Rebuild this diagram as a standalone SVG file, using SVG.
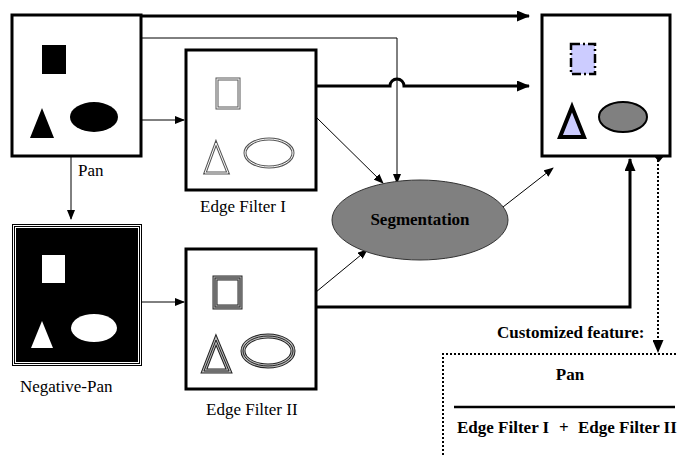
<svg xmlns="http://www.w3.org/2000/svg" width="677" height="455" viewBox="0 0 677 455">
<style>
.box{fill:#fff;stroke:#000;stroke-width:3}
.thick{stroke:#000;stroke-width:3;fill:none}
.thin{stroke:#000;stroke-width:1;fill:none}
.dot{stroke:#000;stroke-width:2;fill:none;stroke-dasharray:2 2}
.lbl{font-family:"Liberation Serif","Times New Roman",serif;font-size:17px;fill:#000}
.b{font-weight:bold}
</style>
<defs>
<marker id="ah" markerUnits="userSpaceOnUse" markerWidth="13" markerHeight="11" refX="12" refY="5.5" orient="auto"><path d="M0,0 L13,5.5 L0,11 z" fill="#000"/></marker>
<marker id="as" markerUnits="userSpaceOnUse" markerWidth="10" markerHeight="8" refX="9" refY="4" orient="auto"><path d="M0,0 L10,4 L0,8 z" fill="#000"/></marker>
</defs>
<rect width="677" height="455" fill="#fff"/>

<g id="connectors">
<path class="thick" d="M141,16 H529" marker-end="url(#ah)"/>
<path class="thin" d="M141,38 H397 V183" marker-end="url(#as)"/>
<path class="thin" d="M141,120 H184" marker-end="url(#as)"/>
<path class="thin" d="M71,156 V219" marker-end="url(#as)"/>
<path class="thick" d="M316,86 H390 A7,7 0 0 1 404,86 H529" marker-end="url(#ah)"/>
<path class="thin" d="M316,117 L383,183" marker-end="url(#as)"/>
<path class="thin" d="M142,302 H184" marker-end="url(#as)"/>
<path class="thin" d="M316,292 L367,250" marker-end="url(#as)"/>
<path class="thick" d="M316,307 H630 V159" marker-end="url(#ah)"/>
<path class="thin" d="M503,207 L553,168" marker-end="url(#as)"/>
<path class="dot" d="M658,160 V352" marker-end="url(#ah)"/>
<path d="M659,150 L664,156 L659,162 L654,156 z" fill="#000"/>
</g>

<g id="pan">
<rect class="box" x="12" y="15" width="129" height="141"/>
<rect x="42" y="45" width="24" height="29" fill="#000"/>
<path d="M42,108 L54,138 L30,138 z" fill="#000"/>
<ellipse cx="94" cy="117" rx="24" ry="15" fill="#000"/>
<text class="lbl" x="78" y="176">Pan</text>
</g>

<g id="edge-filter-1">
<rect class="box" x="186" y="50" width="130" height="140"/>
<g fill="none">
<rect x="217" y="79" width="22" height="29" stroke="#555" stroke-width="3"/>
<rect x="217" y="79" width="22" height="29" stroke="#fff" stroke-width="1"/>
<path d="M216,143 L228,173 L205,173 z" stroke="#555" stroke-width="3"/>
<path d="M216,143 L228,173 L205,173 z" stroke="#fff" stroke-width="1"/>
<ellipse cx="269" cy="153" rx="24" ry="14" stroke="#555" stroke-width="3"/>
<ellipse cx="269" cy="153" rx="24" ry="14" stroke="#fff" stroke-width="1"/>
</g>
<text class="lbl" x="200" y="212">Edge Filter I</text>
</g>

<g id="negative-pan">
<rect x="12.5" y="224.5" width="129" height="141" fill="#fff" stroke="#000" stroke-width="1"/>
<rect x="14.5" y="226.5" width="125" height="137" fill="#fff" stroke="#000" stroke-width="1"/>
<rect x="16" y="228" width="122" height="134" fill="#000"/>
<rect x="42" y="255" width="23" height="28" fill="#fff"/>
<path d="M42,321 L53,348 L31,348 z" fill="#fff"/>
<ellipse cx="94" cy="328" rx="23" ry="14" fill="#fff"/>
<text class="lbl" x="20" y="392">Negative-Pan</text>
</g>

<g id="edge-filter-2">
<rect class="box" x="186" y="249" width="130" height="140"/>
<g fill="none">
<rect x="215" y="278" width="25" height="29" stroke="#222" stroke-width="5"/>
<rect x="215" y="278" width="25" height="29" stroke="#bbb" stroke-width="3"/>
<rect x="215" y="278" width="25" height="29" stroke="#222" stroke-width="1"/>
<path d="M216,340 L229,371 L204,371 z" stroke="#222" stroke-width="5"/>
<path d="M216,340 L229,371 L204,371 z" stroke="#bbb" stroke-width="3"/>
<path d="M216,340 L229,371 L204,371 z" stroke="#222" stroke-width="1"/>
<ellipse cx="268" cy="351" rx="25" ry="15" stroke="#222" stroke-width="5"/>
<ellipse cx="268" cy="351" rx="25" ry="15" stroke="#bbb" stroke-width="3"/>
<ellipse cx="268" cy="351" rx="25" ry="15" stroke="#222" stroke-width="1"/>
</g>
<text class="lbl" x="206" y="415">Edge Filter II</text>
</g>

<g id="segmentation">
<ellipse cx="420" cy="220" rx="88" ry="40" fill="#808080" stroke="#333" stroke-width="1"/>
<text class="lbl b" x="420" y="225" text-anchor="middle" font-size="15">Segmentation</text>
</g>

<g id="output">
<rect class="box" x="542" y="15" width="128" height="141"/>
<rect x="571" y="44" width="24" height="30" fill="#ccf" stroke="#000" stroke-width="2.5" stroke-dasharray="9 3 2 3"/>
<path d="M572,107 L584,137 L560,137 z" fill="#ccf" stroke="#000" stroke-width="4"/>
<ellipse cx="623" cy="117" rx="24" ry="15" fill="#808080" stroke="#000" stroke-width="2"/>
</g>

<g id="customized-feature">
<text class="lbl b" x="497" y="338">Customized feature:</text>
<path class="dot" d="M443,455 V354 H677"/>
<text class="lbl b" x="570" y="380" text-anchor="middle">Pan</text>
<path d="M454,407 H675" stroke="#000" stroke-width="2.5"/>
<text class="lbl b" y="433" font-size="16"><tspan x="457">Edge Filter I</tspan><tspan x="559">+</tspan><tspan x="578">Edge Filter II</tspan></text>
</g>
</svg>
